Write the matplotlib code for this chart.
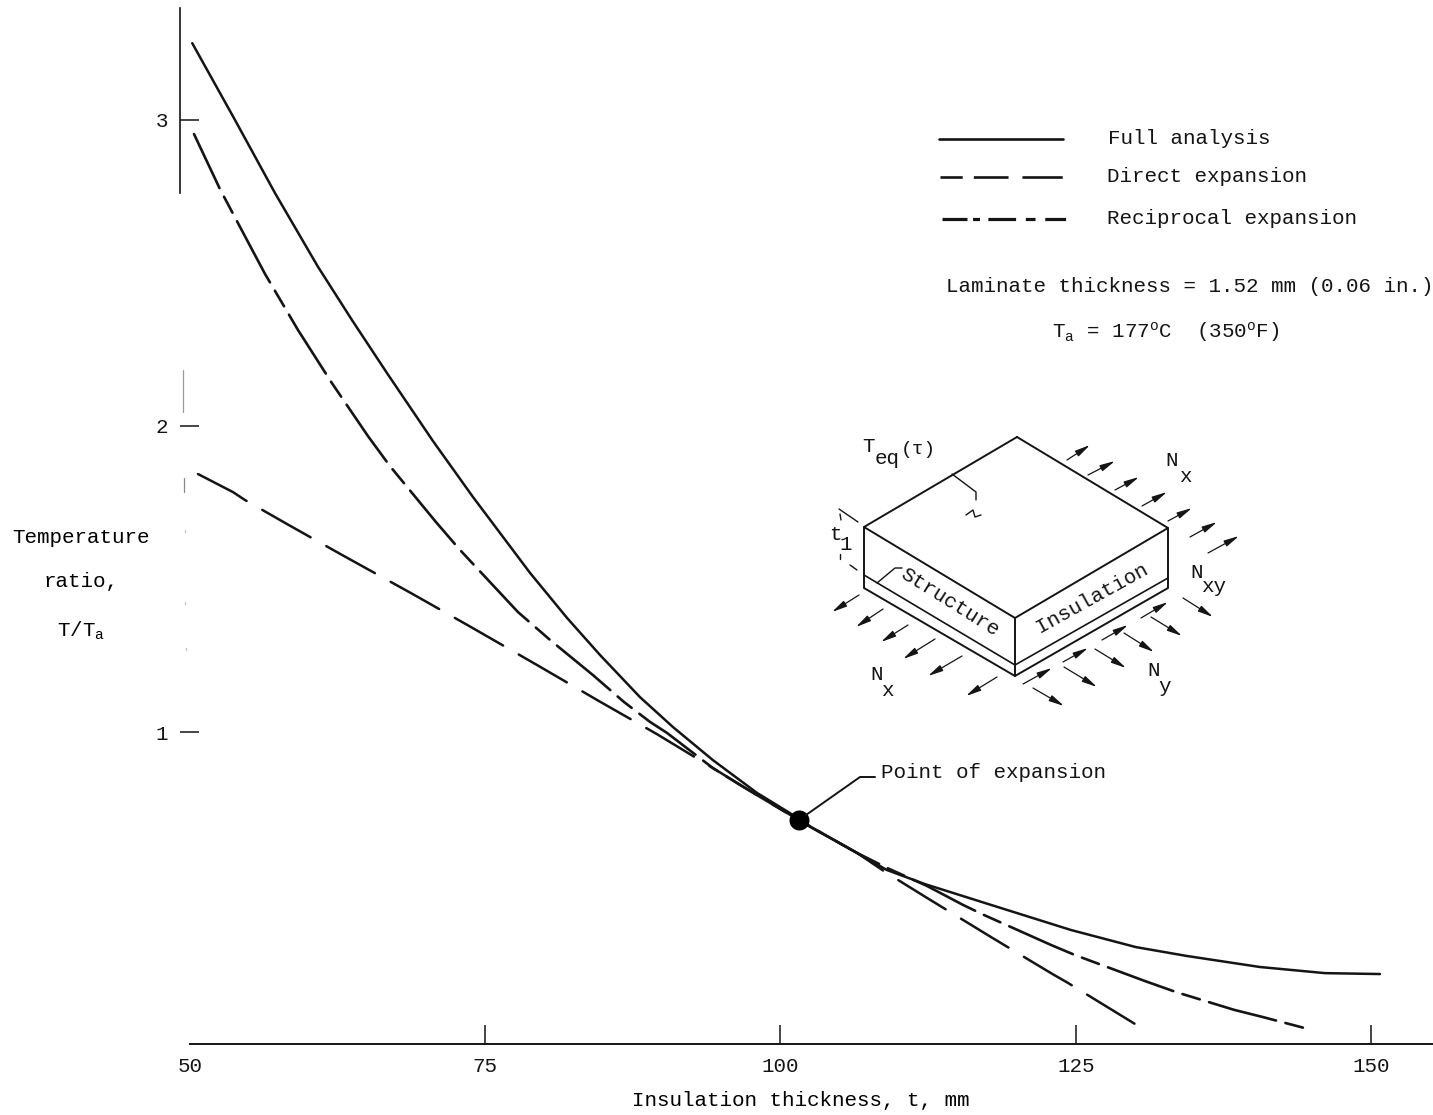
import matplotlib
matplotlib.use("Agg")
import matplotlib.pyplot as plt

INK = "#141414"
plt.rcParams.update({
    "font.family": ["Liberation Mono", "DejaVu Sans Mono"],
    "font.size": 15,
    "mathtext.default": "regular",
    "lines.scale_dashes": False,
    "text.color": INK,
    "axes.edgecolor": INK,
    "xtick.color": INK,
    "ytick.color": INK,
})

# ---------- data ----------
full_t = [50.19, 53.81, 57.20, 60.84, 63.72, 66.68, 70.57, 73.96, 78.79, 81.92, 84.71, 88.10, 90.90,
          94.28, 98.01, 100.80, 102.50, 106.47, 109.01, 112.23, 117.82, 124.59, 130.10, 134.42,
          140.60, 146.10, 150.76]
full_v = [3.251, 3.000, 2.761, 2.520, 2.346, 2.173, 1.951, 1.768, 1.520, 1.373, 1.252, 1.114, 1.016,
          0.908, 0.801, 0.735, 0.690, 0.605, 0.549, 0.503, 0.435, 0.353, 0.297, 0.268,
          0.232, 0.212, 0.209]
direct_t = [50.68, 53.64, 54.66, 58.38, 63.04, 68.71, 73.79, 79.38, 84.63, 89.54, 94.28, 98.26,
            101.57, 106.47, 109.01, 112.40, 117.82, 122.90, 124.34, 130.18]
direct_v = [1.843, 1.784, 1.758, 1.676, 1.575, 1.454, 1.343, 1.219, 1.101, 0.993, 0.882, 0.788,
            0.712, 0.605, 0.539, 0.458, 0.330, 0.212, 0.180, 0.042]
recip_t = [50.34, 52.54, 53.39, 56.35, 59.14, 62.02, 65.07, 66.93, 70.83, 72.86, 77.77, 80.48,
           84.12, 86.75, 88.95, 90.39, 94.28, 96.57, 101.57, 106.47, 109.01, 112.40, 115.45,
           117.23, 122.91, 124.94, 130.87, 133.50, 138.41, 140.79, 144.33]
recip_v = [2.954, 2.774, 2.712, 2.497, 2.314, 2.140, 1.967, 1.869, 1.686, 1.595, 1.392, 1.301,
           1.186, 1.098, 1.033, 0.997, 0.882, 0.827, 0.712, 0.605, 0.556, 0.497, 0.435,
           0.402, 0.304, 0.271, 0.186, 0.150, 0.092, 0.069, 0.033]
point_t, point_v = [101.6], [0.712]
x_ticks = [50, 75, 100, 125, 150]
y_ticks = [1, 2, 3]

W, H = 1433, 1115
fig = plt.figure(figsize=(W / 100, H / 100), dpi=100, facecolor="white")
ax = fig.add_axes([190 / W, (H - 1044) / H, 1243 / W, 1036 / H])
ax.set_xlim(50, 155.25)
ax.set_ylim(-0.0196, 3.366)
ax.patch.set_alpha(0)
for s in ("top", "right"):
    ax.spines[s].set_visible(False)
ax.spines["bottom"].set_linewidth(1.4)
ax.spines["left"].set_linewidth(1.2)
ax.spines["left"].set_position(("outward", 7))
ax.spines["left"].set_bounds(2.76, 3.366)
ax.set_xticks(x_ticks)
ax.set_yticks(y_ticks)
ax.tick_params(axis="x", direction="in", length=14, width=1.1, pad=9.5)
ax.tick_params(axis="y", direction="in", length=14, width=1.1, pad=9)
ax.xaxis.get_major_ticks()[0].tick1line.set_visible(False)
ax.set_xlabel("Insulation thickness, t, mm")
ax.xaxis.set_label_coords((801 - 190) / 1243, (1044 - 1100) / 1036)
ax.xaxis.label.set_verticalalignment("center")
ax.set_ylabel("Temperature\nratio,\nT/T$_a$", rotation=0, ha="center", va="center",
              linespacing=2.7)
ax.yaxis.set_label_coords((81 - 190) / 1243, (1044 - 585) / 1036)

ax.plot(full_t, full_v, color=INK, lw=1.8, solid_capstyle="round", solid_joinstyle="round",
        label="Full analysis")
ax.plot(direct_t, direct_v, color=INK, lw=1.8, linestyle=(0, (40, 13)), dash_capstyle="round",
        dash_joinstyle="round", label="Direct expansion")
ax.plot(recip_t, recip_v, color=INK, lw=1.9, linestyle=(7, (50, 7, 13, 7)), dash_capstyle="round",
        dash_joinstyle="round", label="Reciprocal expansion")
ax.plot(point_t, point_v, "o", color="black", ms=14.4, mew=0)

# ---------- overlay in image pixels for annotations and the schematic ----------
ov = fig.add_axes([0, 0, 1, 1])
ov.set_xlim(0, W)
ov.set_ylim(H, 0)
ov.axis("off")
ov.patch.set_alpha(0)


def line(xs, ys, lw=1.2, color=INK, **kw):
    ov.plot(xs, ys, color=color, lw=lw, solid_capstyle="round", **kw)


# faint remains of the vertical axis
for x, y0, y1, c in [(183, 370, 412, "#999999"), (184, 478, 492, "#888888"),
                     (185, 530, 532, "#bbbbbb"), (185, 602, 604, "#bbbbbb"),
                     (186, 648, 650, "#bbbbbb")]:
    line([x, x], [y0, y1], lw=0.9, color=c)

# legend
line([939, 1063], [139, 139], lw=1.9)
ov.plot([940, 1063], [177, 177], color=INK, lw=1.9, dashes=(16, 8, 25, 10, 29))
ov.plot([942, 1066], [219, 219], color=INK, lw=2.3, dashes=(18, 4, 5, 6, 20, 7, 7, 7, 15))
for y, s, x in [(138, "Full analysis", 1108), (176, "Direct expansion", 1107),
                (218, "Reciprocal expansion", 1107),
                (287, "Laminate thickness = 1.52 mm (0.06 in.)", 946),
                (332, "T$_a$ = 177$^o$C  (350$^o$F)", 1052),
                (773, "Point of expansion", 881)]:
    ov.text(x, y, s, ha="left", va="center")

# leader for the point of expansion
line([806, 860, 875], [815, 777, 777], lw=1.4)

# schematic: outline
line([1017, 864, 1015, 1168, 1017], [437, 527, 618, 528, 437], lw=1.4)
line([864, 864, 1015, 1168, 1168], [527, 588, 676, 588, 528], lw=1.4)
line([1015, 1015], [618, 676], lw=1.4)
line([864, 1015, 1168], [575, 665, 578], lw=1.2)

# schematic: force arrows (tail x, tail y, tip x, tip y)
arrows_nx_top = [(1067, 460, 1090, 445), (1088, 475, 1115, 461), (1115, 490, 1139, 477),
                 (1142, 506, 1167, 492), (1168, 521, 1192, 508), (1190, 537, 1217, 522),
                 (1208, 553, 1239, 536)]
arrows_nx_low = [(859, 595, 832, 612), (883, 609, 856, 627), (908, 625, 881, 642),
                 (935, 639, 903, 659), (962, 656, 928, 676), (997, 677, 966, 696)]
arrows_ny = [(1183, 598, 1213, 617), (1151, 617, 1182, 636), (1124, 633, 1154, 652),
             (1095, 649, 1126, 668), (1064, 667, 1097, 687), (1033, 688, 1064, 706)]
arrows_nxy = [(1023, 684, 1052, 668), (1063, 662, 1088, 648), (1102, 640, 1128, 625),
              (1141, 618, 1168, 602)]
for group in (arrows_nx_top, arrows_nx_low, arrows_ny, arrows_nxy):
    for x0, y0, x1, y1 in group:
        ov.annotate("", xy=(x1, y1), xytext=(x0, y0),
                    arrowprops=dict(arrowstyle="-|>,head_length=0.6,head_width=0.13",
                                    color=INK, lw=0.9, shrinkA=0, shrinkB=0))

# schematic: leaders and dimension marks
line([952, 976, 976], [474, 492, 500], lw=1.0)
line([966, 973, 975, 981], [515, 510, 517, 515], lw=1.0)
line([839, 858], [509, 522], lw=1.0)
line([840, 841], [514, 520], lw=1.0)
line([840, 840], [554, 559], lw=1.0)
line([850, 857], [565, 570], lw=1.0)
line([877, 895, 902], [583, 568, 568], lw=1.0)

# schematic: text
ov.text(950, 602, "Structure", ha="center", va="center", rotation=-32, rotation_mode="anchor")
ov.text(1092, 598, "Insulation", ha="center", va="center", rotation=29, rotation_mode="anchor")
for x, y, s, size in [(869, 447, "T", 15), (887, 459, "eq", 15), (918, 449, "(τ)", 14),
                      (1172, 461, "N", 15), (1185, 476, "x", 15),
                      (1197, 572, "N", 15), (1214, 587, "xy", 15),
                      (1154, 671, "N", 15), (1165, 687, "y", 15),
                      (877, 675, "N", 15), (887, 691, "x", 15),
                      (835, 535, "t", 15), (846, 545, "1", 15)]:
    ov.text(x, y, s, ha="center", va="center", fontsize=size)

fig.savefig("out.png", dpi=100, facecolor="white")
